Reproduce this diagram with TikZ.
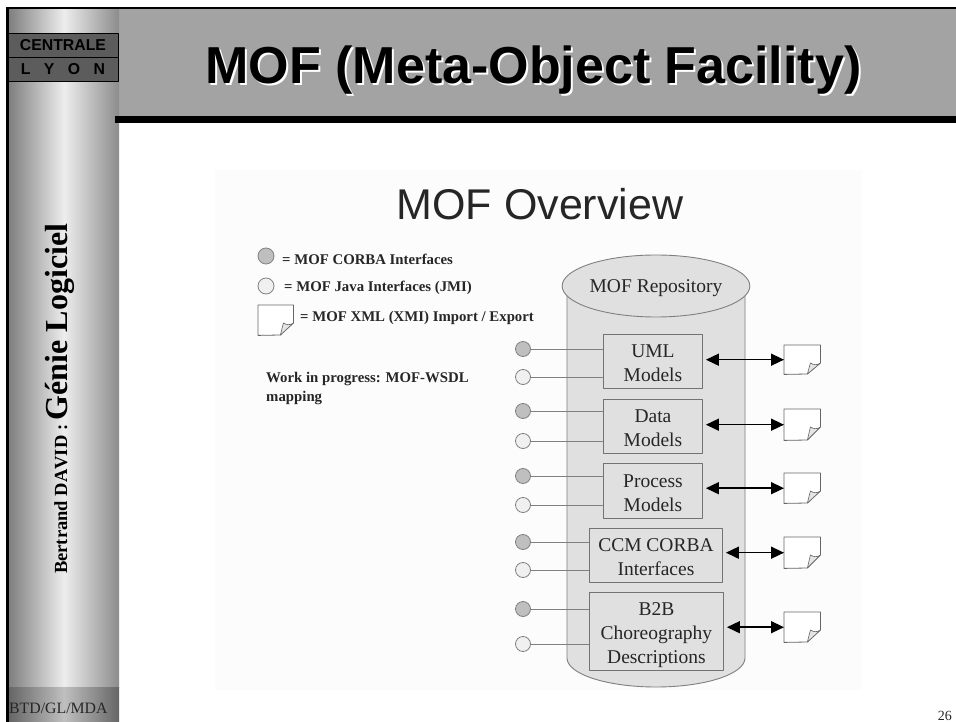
\documentclass[tikz,border=0pt]{standalone}
\usepackage{fontspec}
\setmainfont{Liberation Serif}
\setsansfont{Liberation Sans}
\usetikzlibrary{arrows.meta,shapes.geometric}
\definecolor{bandgray}{gray}{0.64}
\definecolor{logogray}{gray}{0.36}
\definecolor{inkgray}{gray}{0.15}
\definecolor{repogray}{gray}{0.88}
\newcommand{\boxgap}{\rule{0pt}{17pt}}
\tikzset{
  modelbox/.style={draw=black!55,line width=0.9pt,fill=repogray,text=inkgray,align=center,font=\fontsize{19.5}{24}\selectfont,inner sep=0pt,anchor=north west,text depth=0pt},
  logobox/.style={draw=black,line width=0.8pt,fill=logogray,minimum width=110pt,minimum height=24pt,inner sep=0pt,font=\sffamily\bfseries\fontsize{15.8}{16}\selectfont},
  corba/.style={circle,draw=black!50,line width=0.8pt,fill=black!25,minimum size=15pt,inner sep=0pt},
  jmi/.style={circle,draw=black!50,line width=0.8pt,fill=black!6,minimum size=15pt,inner sep=0pt},
  docnote/.style={inner sep=0pt,anchor=north west},
  legend/.style={anchor=west,inner sep=0pt,text=black!85,font=\fontsize{14.8}{19}\selectfont\bfseries},
  wire/.style={draw=black!50,line width=0.8pt},
  slidetitle/.style={inner sep=0pt,anchor=base,font=\sffamily\bfseries\fontsize{52}{56}\selectfont}
}
\begin{document}
\begin{tikzpicture}[line cap=round,line join=round,>={Triangle[length=13pt,width=12pt]},x=1.0pt,y=-1.0pt]
\useasboundingbox (0,0) rectangle (956,722);
\fill[white] (0,0) rectangle (956,722);
% slide frame
\fill[bandgray] (118,9) rectangle (956,116);
\shade[left color=black!50,right color=black!45,middle color=black!7] (9,9) rectangle (119,687);
\shade[left color=black!60,right color=black!60,middle color=black!25] (9,687) rectangle (119,722);
\fill[black] (6,7) rectangle (956,9.5);
\fill[black] (6,7) rectangle (9,722);
\fill[black] (115,116) rectangle (956,123);
% logo
\node[logobox] (centrale) at (63,45) {CENTRALE};
\node[logobox] (lyon) at (63,69) {L\hspace{0.85em}Y\hspace{0.85em}O\hspace{0.85em}N};
% titles
\node[slidetitle,white] (titleShadow) at (535.5,86) {MOF (Meta-Object Facility)};
\node[slidetitle,black] (title) at (533.5,84) {MOF (Meta-Object Facility)};
\node[rotate=90,anchor=base west,inner sep=0pt,font=\bfseries\fontsize{18.5}{20}\selectfont\addfontfeatures{Kerning=Off}] (author) at (67,574) {Bertrand DAVID : {\fontsize{32}{34}\selectfont Génie Logiciel}};
\node[anchor=west,inner sep=0pt,font=\fontsize{15.8}{17}\selectfont,text=black!85] (footer) at (9,708) {BTD/GL/MDA};
\node[anchor=east,inner sep=0pt,font=\fontsize{14}{16}\selectfont,text=black!85] (pageno) at (952,716) {26};
% scanned figure
\fill[black!1] (215,170) rectangle (862,690);
\node[text=inkgray,inner sep=0pt,font=\sffamily\fontsize{43}{46}\selectfont] (overview) at (540,204) {MOF Overview};
% repository
\draw[repogray,fill=repogray] (567,286) -- (567,658) arc (180:0:89 and 29) -- (745,286) -- cycle;
\draw[black!50,line width=0.9pt] (567,286) -- (567,658) arc (180:0:89 and 29) -- (745,286);
\node[ellipse,draw=black!50,line width=0.9pt,fill=repogray,minimum width=178pt,minimum height=62pt,inner sep=0pt,text=inkgray,text depth=-2pt,font=\fontsize{19.5}{24}\selectfont] (repo) at (656,286) {MOF Repository};
\node[modelbox,minimum width=99pt,minimum height=54pt] (umlBox) at (603,334) {\boxgap UML\\Models};
\node[modelbox,minimum width=99pt,minimum height=54pt] (dataBox) at (603,399) {\boxgap Data\\Models};
\node[modelbox,minimum width=99pt,minimum height=55pt] (processBox) at (603,463) {\boxgap Process\\Models};
\node[modelbox,minimum width=133pt,minimum height=54pt] (ccmBox) at (589,528) {\boxgap CCM CORBA\\Interfaces};
\node[modelbox,minimum width=134pt,minimum height=78pt] (btobBox) at (589,592) {\boxgap B2B\\Choreography\\Descriptions};
% interfaces
\foreach \nm/\sty/\yy/\bx in {umlA/corba/349/umlBox,umlB/jmi/377/umlBox,dataA/corba/411/dataBox,dataB/jmi/441/dataBox,processA/corba/476/processBox,processB/jmi/505/processBox,ccmA/corba/542/ccmBox,ccmB/jmi/570/ccmBox,btobA/corba/609/btobBox,btobB/jmi/644/btobBox}{
  \node[\sty] (\nm) at (523,\yy) {};
  \draw[wire] (\nm) -- (\nm -| \bx.west);
}
% documents
\foreach \nm/\yy/\hh/\bx in {umlDoc/345/29/umlBox,dataDoc/409/31/dataBox,processDoc/473/30/processBox,ccmDoc/537/31/ccmBox,btobDoc/612/30/btobBox}{
  \node[docnote,minimum width=36pt,minimum height=\hh pt] (\nm) at (784,\yy) {};
  \draw[black!60,line width=0.8pt,fill=white] (\nm.south west) -- (\nm.north west) -- (\nm.north east) -- ++(0,18) -- ++(-13,\hh-18) -- cycle;
  \draw[black!60,line width=0.6pt,fill=black!10] (\nm.north east) ++(0,18) to[bend left=35] ++(-10,0) -- ++(-3,\hh-18) -- cycle;
  \draw[<->,black,line width=1.5pt] ([xshift=3pt]\nm.west -| \bx.east) -- (\nm.west);
}
% legend
\node[corba,minimum size=16pt] (keyCorba) at (266,256) {};
\node[jmi,minimum size=16pt] (keyJmi) at (266,286) {};
\node[docnote,minimum width=35pt,minimum height=30pt] (keyDoc) at (258,305) {};
\draw[black!60,line width=0.8pt,fill=white] (keyDoc.south west) -- (keyDoc.north west) -- (keyDoc.north east) -- ++(0,18) -- ++(-13,12) -- cycle;
\draw[black!60,line width=0.6pt,fill=black!10] (keyDoc.north east) ++(0,18) to[bend left=35] ++(-10,0) -- ++(-3,12) -- cycle;
\node[legend] (keyCorbaText) at (282,259) {= MOF CORBA Interfaces};
\node[legend] (keyJmiText) at (284,288) {= MOF Java Interfaces (JMI)};
\node[legend] (keyDocText) at (300,318) {= MOF XML (XMI) Import / Export};
\node[legend,align=left,anchor=north west] (wip) at (266,372) {Work in progress: MOF-WSDL\\mapping};
\end{tikzpicture}
\end{document}
